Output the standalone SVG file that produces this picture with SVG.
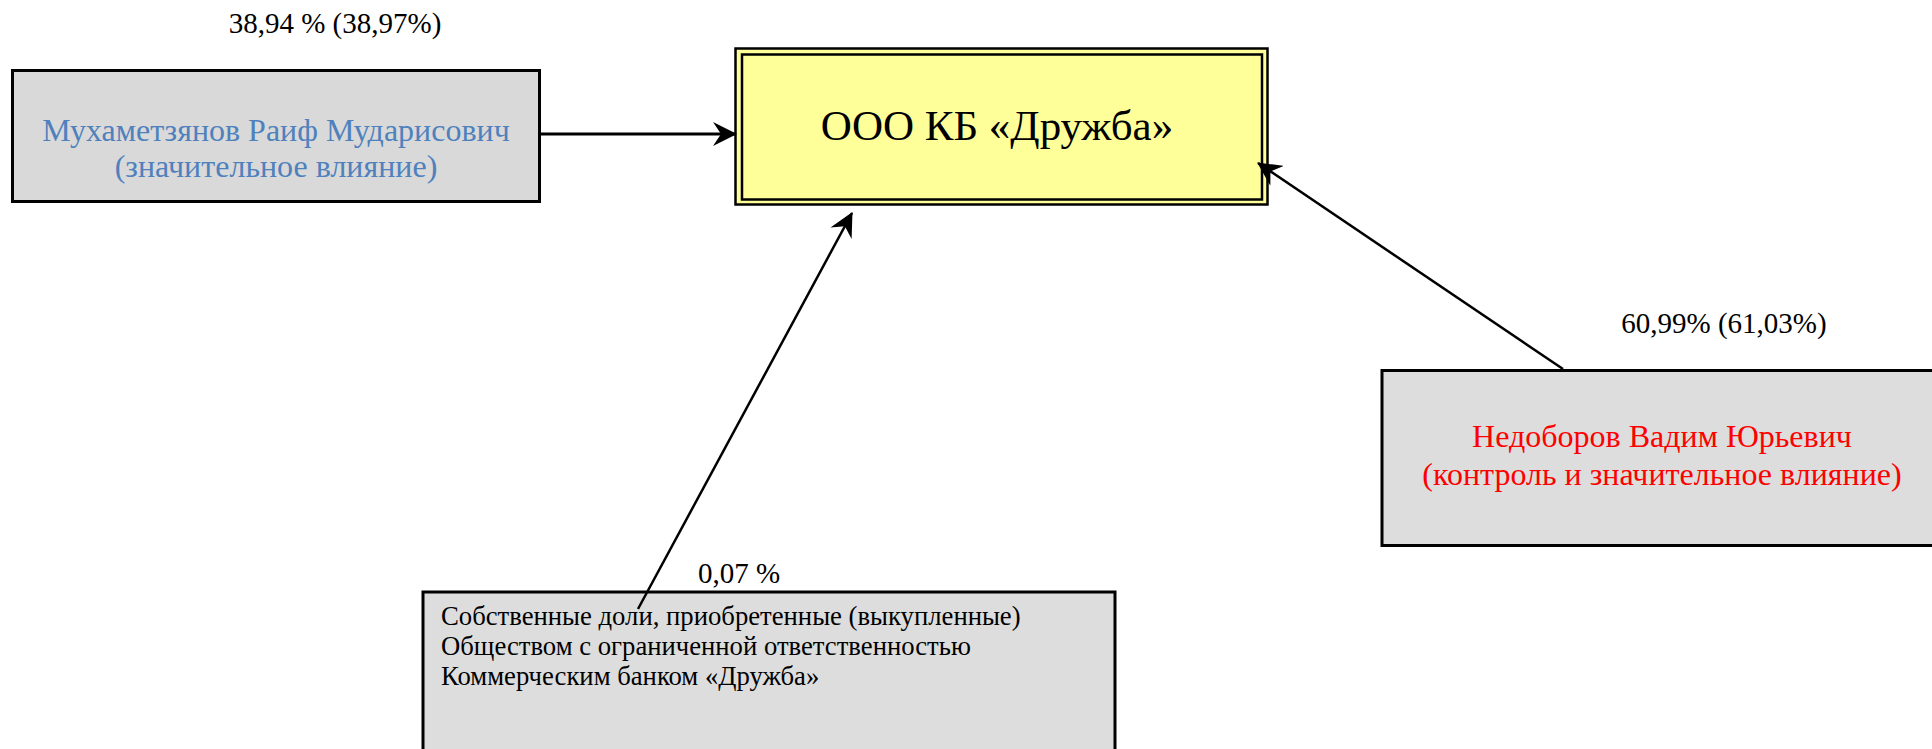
<svg xmlns="http://www.w3.org/2000/svg" width="1932" height="749" viewBox="0 0 1932 749">
<style>
.box{fill:#D9D9D9;stroke:#000;stroke-width:3}
.gbox{fill:#DDDDDD;stroke:#000;stroke-width:3}
.t{font-family:"Liberation Serif","Times New Roman",serif}
.lbl{font-size:29px;fill:#000;text-anchor:middle}
.conn{stroke:#000;fill:none}
</style>
<defs>
<marker id="arr" viewBox="0 0 24 24" refX="23" refY="12" markerWidth="24" markerHeight="24" markerUnits="userSpaceOnUse" orient="auto">
<path d="M0,0 L24,12 L0,24 L8,12 Z" fill="#000"/>
</marker>
</defs>
<rect width="1932" height="749" fill="#fff"/>
<g id="node-mukhametzyanov">
<rect class="box" x="12.5" y="70.5" width="527" height="131"/>
<text class="t" x="276" y="141" font-size="32" fill="#4F81BD" text-anchor="middle">Мухаметзянов Раиф Мударисович</text>
<text class="t" x="276" y="177" font-size="32" fill="#4F81BD" text-anchor="middle">(значительное влияние)</text>
</g>
<g id="node-bank">
<rect x="735.5" y="48.5" width="532" height="156" fill="#FFFF99" stroke="#000" stroke-width="2.5"/>
<rect x="742" y="54.5" width="520" height="145" fill="#FFFF99" stroke="#000" stroke-width="2.5"/>
<text class="t" x="997" y="140" font-size="43" fill="#000" text-anchor="middle">ООО КБ «Дружба»</text>
</g>
<g id="node-nedoborov">
<rect class="gbox" x="1382" y="370.5" width="600" height="175"/>
<text class="t" x="1662" y="447" font-size="32" fill="#FF0000" text-anchor="middle">Недоборов Вадим Юрьевич</text>
<text class="t" x="1662" y="485" font-size="32" fill="#FF0000" text-anchor="middle">(контроль и значительное влияние)</text>
</g>
<g id="node-own-shares">
<rect class="gbox" x="423" y="592" width="692" height="200"/>
<text class="t" x="441" y="625" font-size="26.7" fill="#000">Собственные доли, приобретенные (выкупленные)</text>
<text class="t" x="441" y="655" font-size="26.7" fill="#000">Обществом с ограниченной ответственностью</text>
<text class="t" x="441" y="685" font-size="26.7" fill="#000">Коммерческим банком «Дружба»</text>
</g>
<g id="connectors">
<line class="conn" x1="540" y1="134" x2="736" y2="134" stroke-width="3" marker-end="url(#arr)"/>
<line class="conn" x1="638" y1="609" x2="852" y2="213" stroke-width="2.5" marker-end="url(#arr)"/>
<line class="conn" x1="1563" y1="369" x2="1258" y2="163" stroke-width="2.5" marker-end="url(#arr)"/>
<text class="t lbl" x="335" y="33">38,94 % (38,97%)</text>
<text class="t lbl" x="1724" y="333">60,99% (61,03%)</text>
<text class="t lbl" x="739" y="583">0,07 %</text>
</g>
</svg>
